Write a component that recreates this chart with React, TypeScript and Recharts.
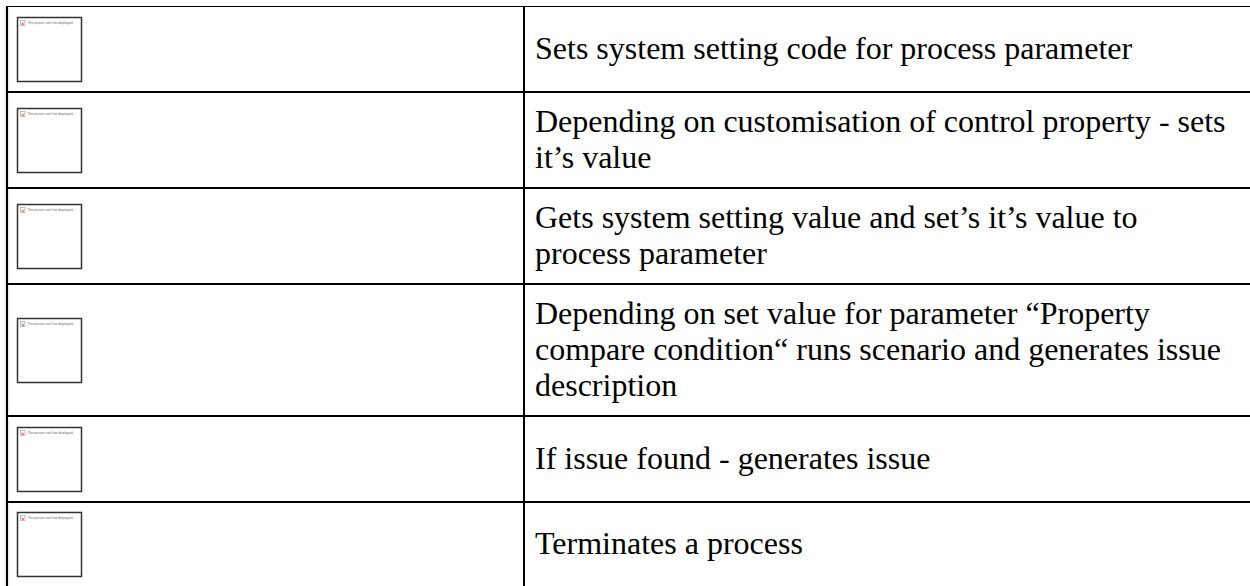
import React from 'react';
import { BarChart, Bar, XAxis, YAxis } from 'recharts';

// one entry per table row, each inner array is one wrapped line of the description cell
const DESCRIPTIONS: string[][] = [
  ['Sets system setting code for process parameter'],
  ['Depending on customisation of control property - sets', 'it’s value'],
  ['Gets system setting value and set’s it’s value to', 'process parameter'],
  [
    'Depending on set value for parameter “Property',
    'compare condition“ runs scenario and generates issue',
    'description',
  ],
  ['If issue found - generates issue'],
  ['Terminates a process'],
];

const PLACEHOLDER_TEXT = 'The picture can’t be displayed.';

const WIDTH = 1250;
const HEIGHT = 586;
const FONT = '"Liberation Serif", "Times New Roman", serif';
const FONT_SIZE = 32;
const LINE_H = 36;
const PAD = 24;
const MIN_ROW = 86;
const FIRST_COL = 517;
const BOX = 64;

function rowHeight(lines: number): number {
  return Math.round(Math.max(lines * LINE_H + PAD, MIN_ROW));
}

const tableRow: Record<string, number | string> = { name: 'steps' };
DESCRIPTIONS.forEach((lines, i) => {
  tableRow[`row${i}`] = rowHeight(lines.length);
});
const data = [tableRow];

function makeRowShape(i: number) {
  return (props: any) => {
    const { x, width } = props;
    const top = props.height < 0 ? props.y + props.height : props.y;
    const h = Math.abs(props.height);
    const mid = top + h / 2;
    const lines = DESCRIPTIONS[i];
    const boxX = x + 10.5;
    const boxY = Math.round(mid - BOX / 2) + 0.5;
    return (
      <g>
        <line x1={x - 1} x2={x + width} y1={top} y2={top} stroke="#000" strokeWidth={2.2} />
        <line x1={x} x2={x} y1={top} y2={top + h} stroke="#000" strokeWidth={2.2} />
        <line x1={x + FIRST_COL} x2={x + FIRST_COL} y1={top} y2={top + h} stroke="#000" strokeWidth={2} />
        <rect x={boxX} y={boxY} width={BOX} height={BOX} fill="#fff" stroke="#333" strokeWidth={1.5} />
        <rect x={boxX + 3} y={boxY + 3} width={4.5} height={5} fill="#fff" stroke="#999" strokeWidth={0.6} />
        <path
          d={`M${boxX + 4} ${boxY + 5} l2.5 2.5 M${boxX + 6.5} ${boxY + 5} l-2.5 2.5`}
          stroke="#e0403a"
          strokeWidth={0.8}
        />
        <text x={boxX + 10} y={boxY + 6.5} fontSize={3.4} fill="#666" fontFamily="Arial, sans-serif">
          {PLACEHOLDER_TEXT}
        </text>
        {lines.map((line, j) => (
          <text
            key={j}
            x={x + 528}
            y={mid - ((lines.length - 1) / 2) * LINE_H + j * LINE_H + 0.31 * FONT_SIZE}
            fontSize={FONT_SIZE}
            fontFamily={FONT}
            fill="#000"
          >
            {line}
          </text>
        ))}
      </g>
    );
  };
}

export default function App() {
  return (
    <div style={{ width: WIDTH, height: HEIGHT, background: '#fff' }}>
      <style>{'body{margin:0;overflow:hidden}'}</style>
      <BarChart
        width={WIDTH}
        height={HEIGHT}
        data={data}
        margin={{ top: 6, right: 0, bottom: 0, left: 7 }}
        barCategoryGap={0}
        barGap={0}
      >
        <XAxis dataKey="name" hide />
        <YAxis type="number" hide reversed domain={[0, HEIGHT - 6]} allowDataOverflow />
        {DESCRIPTIONS.map((_, i) => (
          <Bar
            key={i}
            dataKey={`row${i}`}
            stackId="table"
            fill="#fff"
            isAnimationActive={false}
            shape={makeRowShape(i)}
          />
        ))}
      </BarChart>
    </div>
  );
}
